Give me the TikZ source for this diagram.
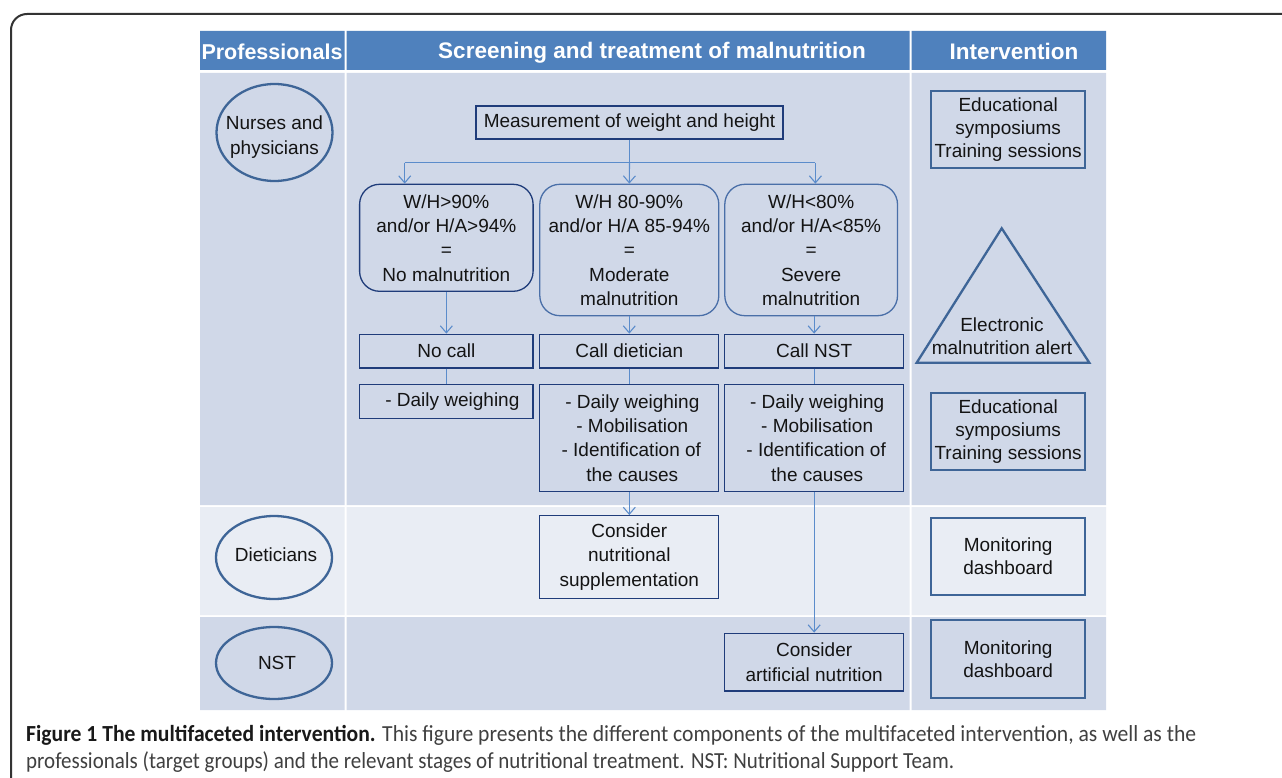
\documentclass[tikz,border=0pt]{standalone}
\usepackage{fontspec}
\setmainfont{Liberation Sans}
\newfontfamily\capfont{Carlito}
\usepackage{graphicx}
\usetikzlibrary{arrows.meta,shapes.geometric}
\definecolor{hdr}{HTML}{4F81BD}
\definecolor{rowD}{HTML}{D0D8E8}
\definecolor{rowL}{HTML}{E9EDF4}
\definecolor{navy}{HTML}{1F3C7A}
\definecolor{midb}{HTML}{4A6FA8}
\definecolor{steel}{HTML}{3E6597}
\definecolor{arrc}{HTML}{5B8CCB}
\definecolor{framec}{HTML}{333333}
\definecolor{capg}{HTML}{404040}
\begin{document}
\begin{tikzpicture}[x=1pt,y=-1pt,
  txt/.style={font=\fontsize{19}{24.3}\selectfont, align=center, inner sep=0pt, text=black!92},
  etxt/.style={font=\fontsize{19}{23}\selectfont, align=center, inner sep=0pt, text=black!92},
  htxt/.style={font=\fontsize{22.5}{24}\selectfont\bfseries, text=white, inner sep=0pt},
  fbox/.style={txt, draw=navy, line width=1.3pt},
  rbox/.style={fbox, rounded corners=20pt},
  ibox/.style={etxt, draw=steel, line width=2.3pt, minimum width=154.3pt},
  pell/.style={ellipse, draw=steel, line width=2.3pt, minimum width=116pt, inner sep=0pt},
  arr/.style={draw=arrc, line width=1.1pt, -{Straight Barb[length=7pt,width=12pt]}},
  ln/.style={draw=arrc, line width=1.1pt}]
\path[use as bounding box, clip] (0,0) rectangle (1282,778);
\fill[white] (0,0) rectangle (1282,778);
\draw[framec, line width=2pt, rounded corners=16pt] (1320,14) -- (11,14) -- (11,820);
% table cells
\fill[hdr] (200,31) rectangle (344.5,70) (346.5,31) rectangle (909.5,70) (911.5,31) rectangle (1106,70);
\fill[rowD] (200,73) rectangle (344.5,505) (346.5,73) rectangle (909.5,505) (911.5,73) rectangle (1106,505);
\fill[rowL] (200,507) rectangle (344.5,615) (346.5,507) rectangle (909.5,615) (911.5,507) rectangle (1106,615);
\fill[rowD] (200,617) rectangle (344.5,710) (346.5,617) rectangle (909.5,710) (911.5,617) rectangle (1106,710);
% headers
\node[htxt, font=\fontsize{21.5}{24}\selectfont\bfseries] (hp) at (272,51.5) {Professionals};
\node[htxt] (hs) at (652,52.5) {Screening and treatment of malnutrition};
\node[htxt] (hi) at (1014,51.5) {Intervention};
% professionals
\node[pell, minimum height=97pt] (nur) at (274.5,132.5) {};
\node[txt] (nurT) at (274.5,137) {Nurses and\\physicians};
\node[pell, minimum height=83pt] (die) at (274,557.5) {};
\node[txt] (dieT) at (276,555) {Dieticians};
\node[pell, minimum height=72pt] (nst) at (274,663) {};
\node[txt] (nstT) at (277,662.5) {NST};
% flow
\node[fbox, minimum width=307pt, minimum height=33pt] (meas) at (629.5,122.5) {Measurement of weight and height};
\node[rbox, minimum width=173.5pt, minimum height=107pt] (c1) at (446.35,237.8) {W/H>90\%\\and/or H/A>94\%\\=\\No malnutrition};
\node[rbox, draw=midb, minimum width=179pt, minimum height=131.4pt] (c2) at (629.3,250) {W/H 80-90\%\\and/or H/A 85-94\%\\=\\Moderate\\malnutrition};
\node[rbox, draw=midb, minimum width=172.7pt, minimum height=131.4pt] (c3) at (811.15,250) {W/H<80\%\\and/or H/A<85\%\\=\\Severe\\malnutrition};
\node[fbox, minimum width=173.5pt, minimum height=33.7pt] (k1) at (446.35,351.15) {No call};
\node[fbox, minimum width=179pt, minimum height=33.7pt] (k2) at (629.3,351.15) {Call dietician};
\node[fbox, minimum width=178.7pt, minimum height=33.7pt] (k3) at (814.15,351.15) {Call NST};
\node[fbox, minimum width=173.5pt, minimum height=34pt] (a1) at (446.35,401.3) {\hspace*{12pt}- Daily weighing};
\node[fbox, minimum width=179pt, minimum height=107.4pt] (a2) at (629.3,438) {\hspace*{6pt}- Daily weighing\\\hspace*{6pt}- Mobilisation\\\hspace*{4pt}- Identification of\\\hspace*{6pt}the causes};
\node[fbox, minimum width=178.7pt, minimum height=107.4pt] (a3) at (814.15,438) {\hspace*{6pt}- Daily weighing\\\hspace*{6pt}- Mobilisation\\\hspace*{4pt}- Identification of\\\hspace*{6pt}the causes};
\node[fbox, minimum width=179pt, minimum height=82.6pt] (sup) at (629.3,557) {Consider\\nutritional\\supplementation};
\node[fbox, minimum width=178.7pt, minimum height=57.7pt] (art) at (814.15,662.15) {Consider\\artificial nutrition};
% connectors
\coordinate (hl) at (404.7,162.7);
\coordinate (hr) at (815.4,162.7);
\draw[ln] (meas.south) -- (meas.south |- hl);
\draw[ln] (hl) -- (hr);
\draw[arr] (hl) -- (hl |- c1.north);
\draw[arr] (meas.south |- hl) -- (c2.north);
\draw[arr] (hr) -- (hr |- c3.north);
\draw[arr] (c1.south) -- (k1.north);
\draw[arr] (c2.south) -- (k2.north);
\draw[arr] (k3.north |- c3.south) -- (k3.north);
\draw[ln] (k1.south) -- (a1.north);
\draw[ln] (k2.south) -- (a2.north);
\draw[ln] (k3.south) -- (a3.north);
\draw[arr] (a2.south) -- (sup.north);
\draw[arr] (a3.south) -- (art.north);
% intervention
\node[ibox, minimum height=77.3pt] (e1) at (1008.15,129.65) {Educational\\symposiums\\Training sessions};
\coordinate (tA) at (1001.7,228.3);
\coordinate (tB) at (916.7,362.7);
\coordinate (tC) at (1089.3,362.7);
\draw[steel, line width=2.3pt, line join=miter] (tA) -- (tB) -- (tC) -- cycle;
\node[etxt] (alert) at (1002,336.5) {Electronic\\malnutrition alert};
\node[ibox, minimum height=77.3pt] (e2) at (1008.15,431.35) {Educational\\symposiums\\Training sessions};
\node[ibox, minimum height=77.3pt] (m1) at (1008.15,556.35) {Monitoring\\dashboard};
\node[ibox, minimum height=78.3pt] (m2) at (1008.15,659.15) {Monitoring\\dashboard};
% caption
\node[anchor=base west, inner sep=0pt] (cap1) at (26,741.7) {\resizebox{1170pt}{\height}{\capfont\fontsize{23}{28}\selectfont\color{capg}\textbf{\color{black!90}Figure 1 The multifaceted intervention.} This figure presents the different components of the multifaceted intervention, as well as the}};
\node[anchor=base west, inner sep=0pt] (cap2) at (26,768.7) {\resizebox{928pt}{\height}{\capfont\fontsize{23}{28}\selectfont\color{capg}professionals (target groups) and the relevant stages of nutritional treatment. NST: Nutritional Support Team.}};
\end{tikzpicture}
\end{document}
